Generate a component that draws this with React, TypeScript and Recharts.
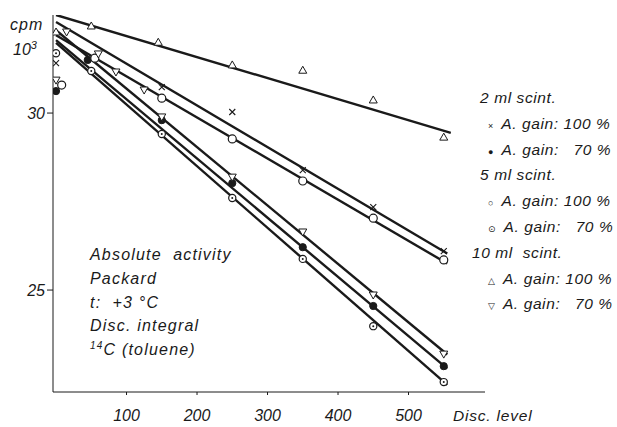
import { ComposedChart, Line, Scatter, XAxis, YAxis } from 'recharts';

// disc level (x) vs cpm x 10^3 (y)

// fitted straight lines (start / end)
const fit10ml100 = [{ x: 0, y: 32.77 }, { x: 560, y: 29.44 }];
const fit2ml100 = [{ x: 0, y: 32.57 }, { x: 555, y: 26.03 }];
const fit5ml100 = [{ x: 0, y: 32.2 }, { x: 555, y: 25.75 }];
const fit10ml70 = [{ x: 0, y: 32.34 }, { x: 555, y: 23.18 }];
const fit2ml70 = [{ x: 0, y: 32.06 }, { x: 555, y: 22.78 }];
const fit5ml70 = [{ x: 0, y: 31.98 }, { x: 555, y: 22.32 }];

// measured points
const pts2ml100 = [
  { x: 0, y: 31.41 }, { x: 150, y: 30.73 }, { x: 250, y: 30.03 },
  { x: 350, y: 28.39 }, { x: 450, y: 27.34 }, { x: 550, y: 26.1 },
];
const pts2ml70 = [
  { x: 0, y: 30.62 }, { x: 45, y: 31.5 }, { x: 150, y: 29.8 }, { x: 250, y: 28.02 },
  { x: 350, y: 26.21 }, { x: 450, y: 24.55 }, { x: 550, y: 22.85 },
];
const pts5ml100 = [
  { x: 8, y: 30.79 }, { x: 55, y: 31.55 }, { x: 150, y: 30.42 }, { x: 250, y: 29.27 },
  { x: 350, y: 28.08 }, { x: 450, y: 27.03 }, { x: 550, y: 25.85 },
];
const pts5ml70 = [
  { x: 0, y: 31.69 }, { x: 50, y: 31.19 }, { x: 150, y: 29.41 }, { x: 250, y: 27.6 },
  { x: 350, y: 25.88 }, { x: 450, y: 23.98 }, { x: 550, y: 22.4 },
];
const pts10ml100 = [
  { x: 0, y: 32.29 }, { x: 50, y: 32.46 }, { x: 145, y: 32.0 }, { x: 250, y: 31.36 },
  { x: 350, y: 31.21 }, { x: 450, y: 30.37 }, { x: 550, y: 29.32 },
];
const pts10ml70 = [
  { x: 0, y: 30.93 }, { x: 15, y: 32.29 }, { x: 60, y: 31.67 }, { x: 85, y: 31.16 },
  { x: 125, y: 30.65 }, { x: 150, y: 29.89 }, { x: 250, y: 28.19 },
  { x: 350, y: 26.64 }, { x: 450, y: 24.86 }, { x: 550, y: 23.19 },
];

const xTicks = [100, 200, 300, 400, 500];
const yTicks = [25, 30];

const legendRows = [
  { mark: '', text: '2 ml scint.' },
  { mark: '×', text: 'A. gain: 100 %' },
  { mark: '●', text: 'A. gain:   70 %' },
  { mark: '', text: '5 ml scint.' },
  { mark: '○', text: 'A. gain: 100 %' },
  { mark: '⊙', text: 'A. gain:   70 %' },
  { mark: '', text: '10 ml  scint.' },
  { mark: '△', text: 'A. gain: 100 %' },
  { mark: '▽', text: 'A. gain:   70 %' },
];

const noteLines = ['Absolute  activity', 'Packard', 't:  +3 °C', 'Disc. integral'];

const INK = '#1a1a1a';
const FONT = '"Liberation Sans", "DejaVu Sans", sans-serif';

const cross = (p: any) => {
  const { cx, cy } = p;
  if (cx == null) return null;
  return <path d={`M${cx - 3},${cy - 3}L${cx + 3},${cy + 3}M${cx + 3},${cy - 3}L${cx - 3},${cy + 3}`} stroke={INK} strokeWidth={1.1} />;
};
const dotFull = (p: any) => (p.cx == null ? null : <circle cx={p.cx} cy={p.cy} r={3.6} fill={INK} stroke={INK} />);
const dotOpen = (p: any) =>
  p.cx == null ? null : <circle cx={p.cx} cy={p.cy} r={4} fill="#fff" stroke={INK} strokeWidth={1.2} />;
const dotCentre = (p: any) =>
  p.cx == null ? null : (
    <g>
      <circle cx={p.cx} cy={p.cy} r={3.6} fill="#fff" stroke={INK} strokeWidth={1.2} />
      <circle cx={p.cx} cy={p.cy} r={1} fill={INK} />
    </g>
  );
const triUp = (p: any) =>
  p.cx == null ? null : (
    <polygon points={`${p.cx},${p.cy - 4} ${p.cx + 4},${p.cy + 3} ${p.cx - 4},${p.cy + 3}`} fill="#fff" stroke={INK} strokeWidth={1} />
  );
const triDown = (p: any) =>
  p.cx == null ? null : (
    <polygon points={`${p.cx},${p.cy + 4} ${p.cx + 4},${p.cy - 3} ${p.cx - 4},${p.cy - 3}`} fill="#fff" stroke={INK} strokeWidth={1} />
  );

const fits = [fit10ml100, fit2ml100, fit5ml100, fit10ml70, fit2ml70, fit5ml70];

export default function App() {
  const tickStyle = { fill: INK, fontSize: 16, fontStyle: 'italic', fontFamily: FONT };
  const txt = {
    position: 'absolute' as const,
    fontFamily: FONT,
    fontStyle: 'italic',
    color: INK,
    whiteSpace: 'pre' as const,
    lineHeight: 1,
  };
  return (
    <div style={{ position: 'absolute', left: 0, top: 0, width: 617, height: 427, background: '#fff' }}>
      <ComposedChart width={617} height={427} margin={{ top: 15, right: 132, bottom: 0, left: 0 }}>
        <XAxis
          type="number"
          dataKey="x"
          domain={[-4.3, 608.5]}
          ticks={xTicks}
          allowDataOverflow
          stroke={INK}
          tickSize={3}
          tick={tickStyle}
          tickMargin={15}
          height={35}
        />
        <YAxis
          type="number"
          dataKey="y"
          domain={[22.12, 32.77]}
          ticks={yTicks}
          allowDataOverflow
          stroke={INK}
          tickSize={6}
          tick={tickStyle}
          width={53}
        />
        {fits.map((d, i) => (
          <Line
            key={i}
            data={d}
            dataKey="y"
            type="linear"
            stroke={INK}
            strokeWidth={2.4}
            dot={false}
            isAnimationActive={false}
          />
        ))}
        <Scatter data={pts2ml100} dataKey="y" shape={cross} isAnimationActive={false} />
        <Scatter data={pts2ml70} dataKey="y" shape={dotFull} isAnimationActive={false} />
        <Scatter data={pts5ml100} dataKey="y" shape={dotOpen} isAnimationActive={false} />
        <Scatter data={pts5ml70} dataKey="y" shape={dotCentre} isAnimationActive={false} />
        <Scatter data={pts10ml100} dataKey="y" shape={triUp} isAnimationActive={false} />
        <Scatter data={pts10ml70} dataKey="y" shape={triDown} isAnimationActive={false} />
      </ComposedChart>

      <div style={{ ...txt, left: 10, top: 17, fontSize: 16, letterSpacing: 1 }}>cpm</div>
      <div style={{ ...txt, left: 13, top: 40, fontSize: 16 }}>
        10<sup style={{ fontSize: 11 }}>3</sup>
      </div>

      {legendRows.map((r, i) => (
        <div
          key={i}
          style={{ ...txt, left: r.mark ? 488 : i === 6 ? 472 : 480, top: 90 + i * 25.8, fontSize: 15.5, letterSpacing: 0.6 }}
        >
          {r.mark ? <span style={{ fontStyle: 'normal', fontSize: 9, marginRight: 8, letterSpacing: 0 }}>{r.mark}</span> : null}
          {r.text}
        </div>
      ))}

      {noteLines.map((t, i) => (
        <div key={i} style={{ ...txt, left: 90, top: 247 + i * 23.8, fontSize: 16, letterSpacing: 1.2 }}>
          {t}
        </div>
      ))}
      <div style={{ ...txt, left: 90, top: 341, fontSize: 16, letterSpacing: 1.2 }}>
        <sup style={{ fontSize: 10 }}>14</sup>C (toluene)
      </div>

      <div style={{ ...txt, left: 453, top: 408, fontSize: 15.5, letterSpacing: 0.8 }}>Disc. level</div>
    </div>
  );
}
